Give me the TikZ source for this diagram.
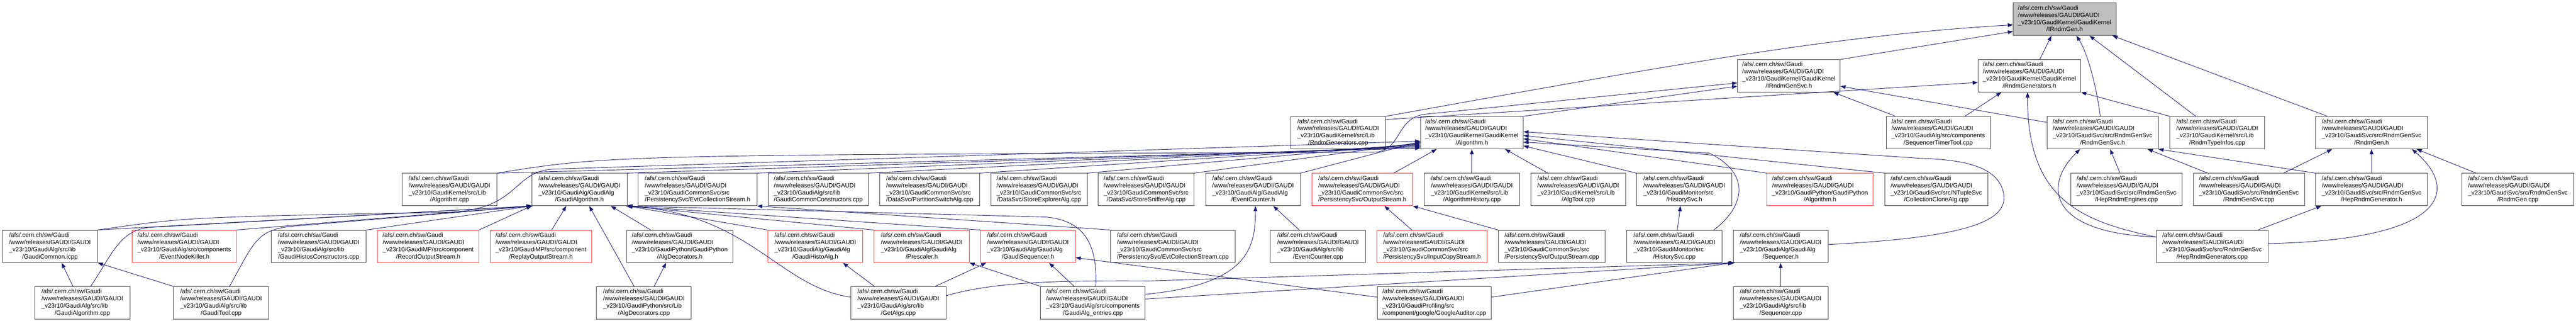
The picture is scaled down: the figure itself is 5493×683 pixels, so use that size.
\documentclass[tikz,border=0pt]{standalone}
\usepackage{fontspec}
\setmainfont{Liberation Sans}
\usetikzlibrary{arrows.meta}

\definecolor{edgeblue}{HTML}{191970}
\definecolor{boxred}{HTML}{FF3030}
\definecolor{rootgray}{HTML}{BFBFBF}

\newcommand{\gaudilabel}[2]{\begin{tabular}{@{}l@{}}/afs/.cern.ch/sw/Gaudi\\/www/releases/GAUDI/GAUDI\\\_v23r10/#1\\\multicolumn{1}{@{}c@{}}{#2}\end{tabular}}

\tikzset{
	file/.style={draw=black!75, line width=1pt, rectangle, inner sep=0pt, minimum height=69pt, font=\fontsize{13}{15.3}\selectfont},
	redfile/.style={file, draw=boxred},
	rootfile/.style={file, fill=rootgray},
	dep/.style={draw=edgeblue, line width=1pt, -{Triangle[length=11pt,width=8pt]}},
}

\begin{document}
\begin{tikzpicture}[x=1pt, y=1pt]

	% ---- parameters

	\def\rowA{-41}
	\def\rowB{-161.5}
	\def\rowC{-282.5}
	\def\rowD{-403.5}
	\def\rowE{-524.5}
	\def\rowF{-644.5}

	\useasboundingbox (0,0) rectangle (5493,-683);

	% ---- row 1 and 2

	\node[rootfile, minimum width=219pt] (irg) at (4402.5,\rowA) {\gaudilabel{GaudiKernel/GaudiKernel}{/IRndmGen.h}};

	\node[file, minimum width=219pt] (irgs) at (3814.5,\rowB) {\gaudilabel{GaudiKernel/GaudiKernel}{/IRndmGenSvc.h}};
	\node[file, minimum width=219pt] (rgh) at (4327.5,\rowB) {\gaudilabel{GaudiKernel/GaudiKernel}{/RndmGenerators.h}};

	% ---- row 3

	\node[file, minimum width=203pt] (rgcpp) at (2853.5,\rowC) {\gaudilabel{GaudiKernel/src/Lib}{/RndmGenerators.cpp}};
	\node[file, minimum width=219pt] (algh) at (3138.5,\rowC) {\gaudilabel{GaudiKernel/GaudiKernel}{/Algorithm.h}};
	\node[file, minimum width=222pt] (stt) at (4133,\rowC) {\gaudilabel{GaudiAlg/src/components}{/SequencerTimerTool.cpp}};
	\node[file, minimum width=237pt] (rgsh) at (4483.5,\rowC) {\gaudilabel{GaudiSvc/src/RndmGenSvc}{/RndmGenSvc.h}};
	\node[file, minimum width=202pt] (rti) at (4728,\rowC) {\gaudilabel{GaudiKernel/src/Lib}{/RndmTypeInfos.cpp}};
	\node[file, minimum width=238pt] (rgenh) at (5057,\rowC) {\gaudilabel{GaudiSvc/src/RndmGenSvc}{/RndmGen.h}};

	% ---- row 4

	\node[file, minimum width=203pt] (algcpp) at (958.5,\rowD) {\gaudilabel{GaudiKernel/src/Lib}{/Algorithm.cpp}};
	\node[file, minimum width=203pt] (galgh) at (1235.5,\rowD) {\gaudilabel{GaudiAlg/GaudiAlg}{/GaudiAlgorithm.h}};
	\node[file, minimum width=253pt] (ecsh) at (1487.5,\rowD) {\gaudilabel{GaudiCommonSvc/src}{/PersistencySvc/EvtCollectionStream.h}};
	\node[file, minimum width=214pt] (gccc) at (1745,\rowD) {\gaudilabel{GaudiAlg/src/lib}{/GaudiCommonConstructors.cpp}};
	\node[file, minimum width=213pt] (psa) at (1982.5,\rowD) {\gaudilabel{GaudiCommonSvc/src}{/DataSvc/PartitionSwitchAlg.cpp}};
	\node[file, minimum width=205pt] (sea) at (2215.5,\rowD) {\gaudilabel{GaudiCommonSvc/src}{/DataSvc/StoreExplorerAlg.cpp}};
	\node[file, minimum width=204pt] (ssa) at (2444,\rowD) {\gaudilabel{GaudiCommonSvc/src}{/DataSvc/StoreSnifferAlg.cpp}};
	\node[file, minimum width=202pt] (ech) at (2672,\rowD) {\gaudilabel{GaudiAlg/GaudiAlg}{/EventCounter.h}};
	\node[redfile, minimum width=214pt] (osh) at (2905,\rowD) {\gaudilabel{GaudiCommonSvc/src}{/PersistencySvc/OutputStream.h}};
	\node[file, minimum width=203pt] (ahc) at (3138.5,\rowD) {\gaudilabel{GaudiKernel/src/Lib}{/AlgorithmHistory.cpp}};
	\node[file, minimum width=203pt] (atc) at (3365.5,\rowD) {\gaudilabel{GaudiKernel/src/Lib}{/AlgTool.cpp}};
	\node[file, minimum width=203pt] (hsh) at (3591.5,\rowD) {\gaudilabel{GaudiMonitor/src}{/HistorySvc.h}};
	\node[redfile, minimum width=226pt] (gpah) at (3881,\rowD) {\gaudilabel{GaudiPython/GaudiPython}{/Algorithm.h}};
	\node[file, minimum width=220pt] (cca) at (4129,\rowD) {\gaudilabel{GaudiSvc/src/NTupleSvc}{/CollectionCloneAlg.cpp}};
	\node[file, minimum width=237pt] (hre) at (4534.5,\rowD) {\gaudilabel{GaudiSvc/src/RndmGenSvc}{/HepRndmEngines.cpp}};
	\node[file, minimum width=237pt] (rgsc) at (4795.5,\rowD) {\gaudilabel{GaudiSvc/src/RndmGenSvc}{/RndmGenSvc.cpp}};
	\node[file, minimum width=238pt] (hrgh) at (5057,\rowD) {\gaudilabel{GaudiSvc/src/RndmGenSvc}{/HepRndmGenerator.h}};
	\node[file, minimum width=238pt] (rgc) at (5369,\rowD) {\gaudilabel{GaudiSvc/src/RndmGenSvc}{/RndmGen.cpp}};

	% ---- row 5

	\node[file, minimum width=203pt] (gci) at (106.5,\rowE) {\gaudilabel{GaudiAlg/src/lib}{/GaudiCommon.icpp}};
	\node[redfile, minimum width=222pt] (enk) at (393,\rowE) {\gaudilabel{GaudiAlg/src/components}{/EventNodeKiller.h}};
	\node[file, minimum width=203pt] (ghc) at (679.5,\rowE) {\gaudilabel{GaudiAlg/src/lib}{/GaudiHistosConstructors.cpp}};
	\node[redfile, minimum width=216pt] (ros) at (913,\rowE) {\gaudilabel{GaudiMP/src/component}{/RecordOutputStream.h}};
	\node[redfile, minimum width=217pt] (rps) at (1153.5,\rowE) {\gaudilabel{GaudiMP/src/component}{/ReplayOutputStream.h}};
	\node[file, minimum width=227pt] (adh) at (1449.5,\rowE) {\gaudilabel{GaudiPython/GaudiPython}{/AlgDecorators.h}};
	\node[redfile, minimum width=203pt] (gha) at (1738.5,\rowE) {\gaudilabel{GaudiAlg/GaudiAlg}{/GaudiHistoAlg.h}};
	\node[redfile, minimum width=203pt] (psh) at (1965.5,\rowE) {\gaudilabel{GaudiAlg/GaudiAlg}{/Prescaler.h}};
	\node[redfile, minimum width=202pt] (gsh) at (2192,\rowE) {\gaudilabel{GaudiAlg/GaudiAlg}{/GaudiSequencer.h}};
	\node[file, minimum width=266pt] (ecsc) at (2501,\rowE) {\gaudilabel{GaudiCommonSvc/src}{/PersistencySvc/EvtCollectionStream.cpp}};
	\node[file, minimum width=203pt] (ecc) at (2810.5,\rowE) {\gaudilabel{GaudiAlg/src/lib}{/EventCounter.cpp}};
	\node[redfile, minimum width=235pt] (icsh) at (3053.5,\rowE) {\gaudilabel{GaudiCommonSvc/src}{/PersistencySvc/InputCopyStream.h}};
	\node[file, minimum width=228pt] (osc) at (3309,\rowE) {\gaudilabel{GaudiCommonSvc/src}{/PersistencySvc/OutputStream.cpp}};
	\node[file, minimum width=203pt] (hsc) at (3570.5,\rowE) {\gaudilabel{GaudiMonitor/src}{/HistorySvc.cpp}};
	\node[file, minimum width=202pt] (seqh) at (3797,\rowE) {\gaudilabel{GaudiAlg/GaudiAlg}{/Sequencer.h}};
	\node[file, minimum width=238pt] (hrgc) at (4717,\rowE) {\gaudilabel{GaudiSvc/src/RndmGenSvc}{/HepRndmGenerators.cpp}};

	% ---- row 6

	\node[file, minimum width=203pt] (gac) at (175.5,\rowF) {\gaudilabel{GaudiAlg/src/lib}{/GaudiAlgorithm.cpp}};
	\node[file, minimum width=203pt] (gtc) at (471.5,\rowF) {\gaudilabel{GaudiAlg/src/lib}{/GaudiTool.cpp}};
	\node[file, minimum width=202pt] (adc) at (1373,\rowF) {\gaudilabel{GaudiPython/src/Lib}{/AlgDecorators.cpp}};
	\node[file, minimum width=203pt] (getalg) at (1915.5,\rowF) {\gaudilabel{GaudiAlg/src/lib}{/GetAlgs.cpp}};
	\node[file, minimum width=223pt] (gae) at (2330.5,\rowF) {\gaudilabel{GaudiAlg/src/components}{/GaudiAlg\_entries.cpp}};
	\node[file, minimum width=243pt] (gaud) at (3058.5,\rowF) {\gaudilabel{GaudiProfiling/src}{/component/google/GoogleAuditor.cpp}};
	\node[file, minimum width=202pt] (seqc) at (3797,\rowF) {\gaudilabel{GaudiAlg/src/lib}{/Sequencer.cpp}};

	% ---- IRndmGen.h

	\draw[dep] (irgs.north east) -- ([yshift=-26pt]irg.west);
	\draw[dep] (rgcpp.north east) .. controls (3500,-150) and (3900,-75) .. ([yshift=-12pt]irg.west);
	\draw[dep] ([xshift=22pt]rgh.north) -- ([xshift=-28pt]irg.south);
	\draw[dep] ([xshift=-5pt]rgsh.north) .. controls (4470,-180) and (4450,-110) .. ([xshift=25pt]irg.south);
	\draw[dep] ([xshift=-46pt]rti.north) -- ([xshift=53pt]irg.south);
	\draw[dep] ([xshift=-94pt]rgenh.north) -- ([xshift=-8pt]irg.south east);

	% ---- IRndmGenSvc.h and RndmGenerators.h

	\draw[dep] (algcpp.north east) .. controls (1300,-330) .. (2930,-324) .. controls (2990,-322) and (2975,-250) .. (3040,-243) -- ([yshift=-15pt]irgs.west);
	\draw[dep] (algh.north east) -- ([yshift=-22pt]irgs.west);
	\draw[dep] ([xshift=-91pt]stt.north) -- ([xshift=95pt]irgs.south);
	\draw[dep] ([yshift=-13pt]rgsh.north west) -- ([yshift=-22pt]irgs.east);

	\draw[dep] ([yshift=-7pt]rgcpp.north east) -- ([yshift=-14pt]rgh.west);
	\draw[dep] (rti.north west) -- (rgh.south east);
	\draw[dep] ([xshift=57pt]stt.north) -- ([xshift=-60pt]rgh.south);
	\draw[dep] ([yshift=20pt]hrgc.west) .. controls (4430,-470) and (4323,-420) .. ([xshift=-4pt]rgh.south);

	% ---- RndmGenSvc.h, RndmGen.h, HepRndmGenerator.h

	\draw[dep] ([yshift=20pt]hrgc.west) .. controls (4360,-495) and (4360,-390) .. ([xshift=-48pt]rgsh.south);
	\draw[dep] ([xshift=-14pt]hre.north) -- ([xshift=16pt]rgsh.south);
	\draw[dep] ([xshift=-88pt]rgsc.north) -- ([xshift=96pt]rgsh.south);
	\draw[dep] (hrgh.north west) -- (rgsh.south east);

	\draw[dep] (hrgh.north) -- (rgenh.south);
	\draw[dep] ([yshift=6pt]hrgc.east) .. controls (5230,-510) and (5240,-400) .. ([xshift=86pt]rgenh.south);
	\draw[dep] ([xshift=-89pt]rgc.north) -- ([xshift=96pt]rgenh.south);
	\draw[dep] ([xshift=74pt]rgsc.north) -- ([xshift=-84pt]rgenh.south);

	\draw[dep] ([xshift=98pt]hrgc.north) -- ([xshift=-107pt]hrgh.south);

	% ---- Algorithm.h

	\foreach \src/\dy in {algcpp/2, galgh/4, ecsh/6, gccc/8, psa/10, sea/12, ssa/14, ech/16} {
		\draw[dep] (\src.north east) -- ([yshift=\dy pt]algh.south west);
	}

	\draw[dep] (gci.north east) .. controls (400,-462) .. (950,-452) .. controls (1110,-448) and (1090,-365) .. (1180,-360) -- ([yshift=-18pt]algh.west);
	\draw[dep] ([xshift=67pt]osh.north) -- ([xshift=-75pt]algh.south);
	\draw[dep] (ahc.north) -- (algh.south);
	\draw[dep] ([xshift=-65pt]atc.north) -- ([xshift=71pt]algh.south);
	\draw[dep] (hsh.north west) -- ([yshift=-28pt]algh.east);
	\draw[dep] ([xshift=84pt]hsc.north) .. controls (3720,-440) and (3735,-370) .. (3645,-326) -- ([yshift=-20pt]algh.east);
	\draw[dep] (gpah.north west) -- ([yshift=-13pt]algh.east);
	\draw[dep] (cca.north west) -- ([yshift=-6pt]algh.east);
	\draw[dep] ([yshift=4pt]seqh.east) .. controls (4200,-505) and (4285,-470) .. (4272,-410) .. controls (4260,-355) and (4190,-340) .. (4095,-337) -- ([yshift=2pt]algh.east);

	% ---- GaudiAlgorithm.h

	\foreach \src in {gci, enk, ghc, ros} {
		\draw[dep] (\src.north east) -- (galgh.south west);
	}
	\draw[dep] ([xshift=18pt]gac.north) .. controls (240,-540) and (255,-490) .. (320,-484) -- (galgh.south west);
	\draw[dep] ([xshift=18pt]gtc.north) .. controls (540,-520) and (545,-490) .. (620,-482) -- ([xshift=3pt]galgh.south west);
	\draw[dep] ([xshift=23pt]rps.north) -- ([xshift=-28pt]galgh.south);
	\draw[dep] ([xshift=-21pt]adc.north) -- ([xshift=21pt]galgh.south);
	\draw[dep] ([xshift=52pt]adh.north west) -- ([xshift=67pt]galgh.south);
	\foreach \src in {gha, psh, gsh} {
		\draw[dep] (\src.north west) -- (galgh.south east);
	}
	\draw[dep] ([yshift=12pt]getalg.west) .. controls (1660,-610) and (1600,-455) .. ([xshift=-3pt]galgh.south east);
	\draw[dep] ([xshift=6pt]gae.north) .. controls (2340,-530) and (2320,-470) .. (2230,-462) -- (galgh.south east);

	% ---- other headers

	\draw[dep] (ecsc.north west) -- (ecsh.south east);
	\draw[dep] ([yshift=18pt]gae.east) .. controls (2660,-605) and (2677,-530) .. ([xshift=5pt]ech.south);
	\draw[dep] ([xshift=-40pt]ecc.north) -- ([xshift=43pt]ech.south);
	\draw[dep] ([xshift=-43pt]icsh.north) -- ([xshift=47pt]osh.south);
	\draw[dep] (osc.north west) -- (osh.south east);
	\draw[dep] ([xshift=6pt]hsc.north) -- ([xshift=-8pt]hsh.south);

	\draw[dep] ([xshift=-20pt]gac.north) -- ([xshift=25pt]gci.south);
	\draw[dep] (gtc.north west) -- (gci.south east);
	\draw[dep] ([xshift=22pt]adc.north) -- ([xshift=-29pt]adh.south);
	\draw[dep] ([xshift=51pt]getalg.north west) -- ([xshift=59pt]gha.south);
	\draw[dep] (gae.north west) -- (psh.south east);

	\draw[dep] ([xshift=79pt]getalg.north) -- ([xshift=-89pt]gsh.south);
	\draw[dep] ([xshift=-40pt]gae.north) -- ([xshift=45pt]gsh.south);
	\draw[dep] ([yshift=12pt]gaud.west) -- ([yshift=-24pt]gsh.east);

	% ---- Sequencer.h

	\draw[dep] (seqc.north) -- (seqh.south);
	\draw[dep] ([yshift=12pt]gaud.east) -- (seqh.south west);
	\draw[dep] ([yshift=8pt]gae.east) -- ([xshift=2pt]seqh.south west);
	\draw[dep] ([yshift=15pt]getalg.east) .. controls (2120,-600) and (2250,-597) .. (2450,-598) -- ([xshift=4pt]seqh.south west);

\end{tikzpicture}
\end{document}
